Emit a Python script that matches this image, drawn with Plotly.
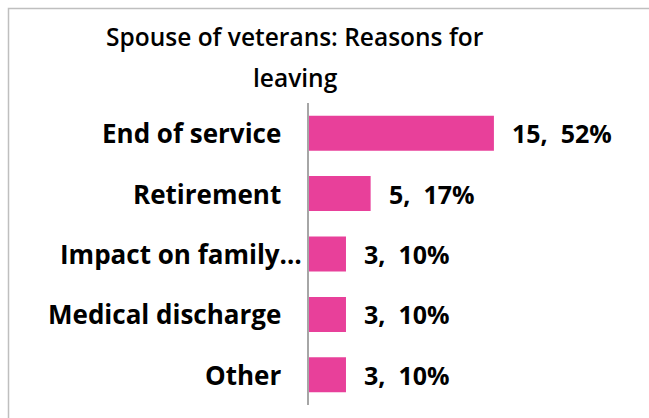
import plotly.graph_objects as go

# Data
categories = ["End of service", "Retirement", "Impact on family…", "Medical discharge", "Other"]
counts = [15, 5, 3, 3, 3]
percents = [52, 17, 10, 10, 10]
title_lines = ["Spouse of veterans: Reasons for", "leaving"]

W, H = 649, 418
L, R, T, B = 309, 9, 103, 13
plot_w = W - L - R
plot_h = H - T - B

FONT = "Open Sans"
BAR = "#E8409A"


def px_to_paper_x(px):
    return (px - L) / plot_w


def px_to_paper_y(py):
    return (H - B - py) / plot_h


fig = go.Figure(
    go.Bar(
        x=counts,
        y=categories,
        orientation="h",
        marker=dict(color=BAR, line=dict(width=0)),
        hoverinfo="skip",
    )
)

annotations = []
# category labels (right aligned, left of the axis)
for cat in categories:
    right_px = 304 if cat.endswith("…") else 283
    annotations.append(dict(
        x=px_to_paper_x(right_px), xref="paper", y=cat, yref="y",
        text=cat, showarrow=False, xanchor="right", yanchor="middle",
        font=dict(family=FONT, size=26, color="#000000", weight="bold"),
    ))
# value labels
for cat, c, p in zip(categories, counts, percents):
    annotations.append(dict(
        x=c, xref="x", y=cat, yref="y", xshift=16,
        text=f"{c},\u00a0 {p}%", showarrow=False, xanchor="left", yanchor="middle",
        font=dict(family=FONT, size=25, color="#000000", weight="bold"),
    ))
# title lines
for i, line in enumerate(title_lines):
    annotations.append(dict(
        x=px_to_paper_x(295), xref="paper",
        y=px_to_paper_y(36 + i * 42), yref="paper",
        text=line, showarrow=False, xanchor="center", yanchor="middle",
        font=dict(family=FONT, size=24.5, color="#000000", weight=600),
    ))

fig.update_layout(
    width=W, height=H,
    margin=dict(l=L, r=R, t=T, b=B),
    paper_bgcolor="white", plot_bgcolor="white",
    showlegend=False,
    bargap=0.42,
    xaxis=dict(range=[0, 26.85], visible=False, fixedrange=True),
    yaxis=dict(
        autorange="reversed", showticklabels=False, ticks="",
        showline=True, linecolor="#A6A6A6", linewidth=2,
        showgrid=False, zeroline=False,
    ),
    annotations=annotations,
    shapes=[dict(
        type="rect", xref="paper", yref="paper",
        x0=px_to_paper_x(8.5), x1=px_to_paper_x(700),
        y0=px_to_paper_y(500), y1=px_to_paper_y(8.5),
        line=dict(color="#BFBFBF", width=1.5), fillcolor="rgba(0,0,0,0)",
        layer="below",
    )],
)

fig.write_html("out.html")
